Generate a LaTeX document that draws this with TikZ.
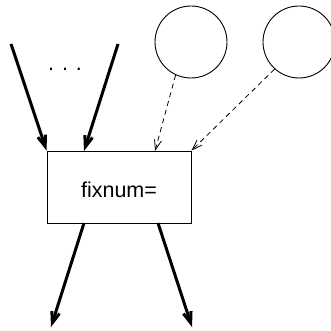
\documentclass[tikz,border=0pt]{standalone}
\usepackage{fontspec}
\setmainfont{Liberation Sans}
\usetikzlibrary{arrows.meta}
\begin{document}
\begin{tikzpicture}[x=1pt,y=-1pt,
  thin line/.style={line width=0.9pt},
  flow/.style={line width=3pt,-{Straight Barb[length=11pt,width=8pt]}},
  hint/.style={line width=0.8pt,dash pattern=on 5pt off 4pt,-{Straight Barb[length=10pt,width=7pt]}},
  opbox/.style={draw,thin line,rectangle,minimum width=144pt,minimum height=72pt,inner sep=0pt,
    text height=20pt,text depth=0pt,font=\fontsize{21.5}{24}\selectfont},
  src/.style={draw,thin line,circle,minimum size=72pt,inner sep=0pt}]
  \useasboundingbox (0,0) rectangle (331,331);

  % operator box and its two parameter sources
  \node[opbox] (box) at (119,187) {fixnum=};
  \node[src] (c1) at (191,42) {};
  \node[src] (c2) at (299,42) {};

  % free ends of the data-flow arrows
  \coordinate (in1) at (11,44);
  \coordinate (in2) at (118,44);
  \coordinate (out1) at (51,327);
  \coordinate (out2) at (192,327);

  % attachment points on the box
  \coordinate (t1) at (box.north west);
  \coordinate (t2) at (84,151);
  \coordinate (t3) at (155,151);
  \coordinate (t4) at (box.north east);
  \coordinate (b1) at (84,223);
  \coordinate (b2) at (158,223);

  % inputs, with the ellipsis between them
  \draw[flow] (in1) -- (t1);
  \draw[flow] (in2) -- (t2);
  \node[font=\fontsize{21.5}{24}\selectfont] (dots) at (65,69) {. . .};

  % parameters
  \draw[hint] (c1.245) -- (t3);
  \draw[hint] (c2.228) -- (t4);

  % outputs
  \draw[flow] (b1) -- (out1);
  \draw[flow] (b2) -- (out2);
\end{tikzpicture}
\end{document}
